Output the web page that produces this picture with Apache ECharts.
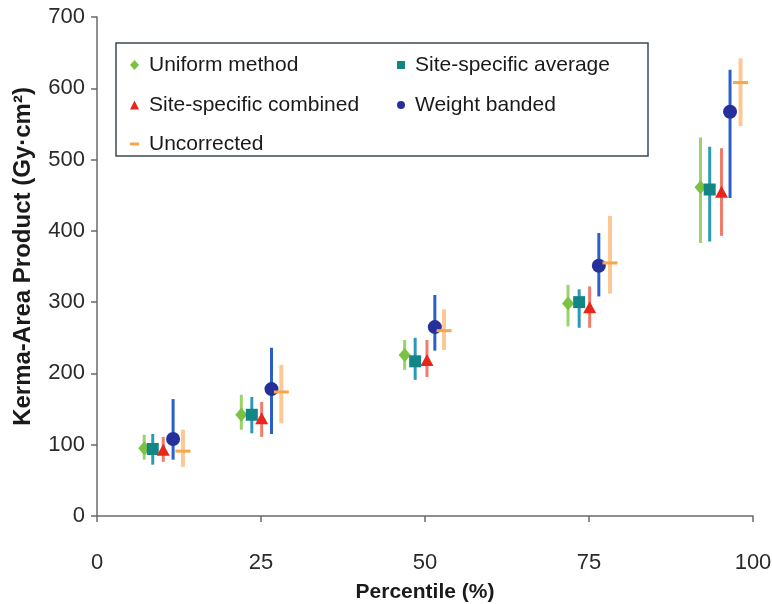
<!DOCTYPE html>
<html>
<head>
<meta charset="utf-8">
<script src="https://cdn.jsdelivr.net/npm/echarts@6/dist/echarts.min.js"></script>
<style>html,body{margin:0;padding:0;background:#fff}#c{width:772px;height:604px}</style>
</head>
<body>
<div id="c"></div>
<script>
var xTicks = [0, 25, 50, 75, 100];
var yTicks = [0, 100, 200, 300, 400, 500, 600, 700];

var seriesNames = ['Uniform method', 'Site-specific average', 'Site-specific combined', 'Weight banded', 'Uncorrected'];

var uniformX  = [7.2, 22.0, 46.9, 71.8, 92.0];
var uniformY  = [95, 142, 226, 298, 461];
var uniformLo = [79, 121, 205, 266, 383];
var uniformHi = [114, 170, 247, 324, 531];

var siteAvgX  = [8.5, 23.6, 48.5, 73.5, 93.4];
var siteAvgY  = [94, 142, 217, 300, 458];
var siteAvgLo = [72, 116, 191, 264, 385];
var siteAvgHi = [115, 167, 250, 318, 518];

var combinedX  = [10.1, 25.1, 50.3, 75.1, 95.2];
var combinedY  = [93, 137, 219, 293, 455];
var combinedLo = [76, 111, 195, 264, 393];
var combinedHi = [111, 160, 247, 322, 516];

var weightX  = [11.6, 26.6, 51.5, 76.5, 96.5];
var weightY  = [108, 178, 265, 351, 567];
var weightLo = [79, 115, 232, 308, 446];
var weightHi = [164, 236, 310, 397, 626];

var uncorrX  = [13.1, 28.1, 52.9, 78.2, 98.1];
var uncorrY  = [91, 174, 260, 355, 608];
var uncorrLo = [69, 130, 233, 312, 547];
var uncorrHi = [121, 212, 290, 421, 642];

var FONT = '"Liberation Sans", Arial, sans-serif';

var defs = [
  {name: seriesNames[0], x: uniformX, y: uniformY, lo: uniformLo, hi: uniformHi, mc: '#7cc242', bc: '#9ad36a', sym: 'diamond', size: [12, 14], bw: 3, li: 'diamond', lw: 9, lh: 10},
  {name: seriesNames[1], x: siteAvgX, y: siteAvgY, lo: siteAvgLo, hi: siteAvgHi, mc: '#148585', bc: '#2a9bb5', sym: 'rect', size: [12, 12], bw: 3, li: 'rect', lw: 8, lh: 8},
  {name: seriesNames[2], x: combinedX, y: combinedY, lo: combinedLo, hi: combinedHi, mc: '#e8261c', bc: '#f27c6b', sym: 'triangle', size: [13, 12], bw: 3, li: 'triangle', lw: 9, lh: 9},
  {name: seriesNames[3], x: weightX, y: weightY, lo: weightLo, hi: weightHi, mc: '#25309a', bc: '#2a5fc9', sym: 'circle', size: [14, 14], bw: 3, li: 'circle', lw: 8, lh: 8},
  {name: seriesNames[4], x: uncorrX, y: uncorrY, lo: uncorrLo, hi: uncorrHi, mc: '#f7a64c', bc: '#fcc995', sym: 'rect', size: [15, 3], bw: 4, li: 'rect', lw: 9, lh: 3}
];

var series = [];
defs.forEach(function (d) {
  var errData = d.x.map(function (xv, i) { return [xv, d.lo[i], d.hi[i]]; });
  series.push({
    type: 'custom',
    name: d.name + ' range',
    data: errData,
    encode: {x: 0, y: [1, 2]},
    z: 1,
    silent: true,
    renderItem: (function (col, w) {
      return function (params, api) {
        var p1 = api.coord([api.value(0), api.value(1)]);
        var p2 = api.coord([api.value(0), api.value(2)]);
        return {type: 'line', shape: {x1: p1[0], y1: p1[1], x2: p2[0], y2: p2[1]}, style: {stroke: col, lineWidth: w}};
      };
    })(d.bc, d.bw)
  });
});
defs.forEach(function (d) {
  series.push({
    type: 'scatter',
    name: d.name,
    data: d.x.map(function (xv, i) { return [xv, d.y[i]]; }),
    symbol: d.sym,
    symbolSize: d.size,
    itemStyle: {color: d.mc, opacity: 1},
    z: 3
  });
});

var legendPos = [
  {left: 130, top: 54},
  {left: 397, top: 54},
  {left: 130, top: 94},
  {left: 397, top: 94},
  {left: 130, top: 133}
];
var legends = defs.map(function (d, i) {
  return {
    data: [{name: d.name, icon: d.li, itemStyle: {color: d.mc}}],
    left: legendPos[i].left,
    top: legendPos[i].top,
    padding: 0,
    itemWidth: d.lw,
    itemHeight: d.lh,
    selectedMode: false,
    textStyle: {fontFamily: FONT, fontSize: 21, color: '#1a1a1a', lineHeight: 22, padding: [0, 0, 0, 5]}
  };
});

var chart = echarts.init(document.getElementById('c'), null, {renderer: 'canvas'});
chart.setOption({
  backgroundColor: '#ffffff',
  animation: false,
  grid: {left: 97, right: 19, top: 17, bottom: 88, containLabel: false, outerBoundsMode: 'none'},
  legend: legends,
  graphic: [{
    type: 'rect',
    shape: {x: 116, y: 43, width: 532, height: 113},
    style: {fill: 'rgba(0,0,0,0)', stroke: '#3d4a52', lineWidth: 1.5},
    z: 10
  }],
  xAxis: {
    type: 'value', min: xTicks[0], max: xTicks[xTicks.length - 1], interval: 25,
    name: 'Percentile (%)', nameLocation: 'middle', nameGap: 66,
    nameTextStyle: {fontFamily: FONT, fontSize: 21, fontWeight: 'bold', color: '#1a1a1a'},
    axisLine: {lineStyle: {color: '#6a6a6a', width: 1.5}},
    axisTick: {length: 6, lineStyle: {color: '#6a6a6a', width: 1.5}},
    axisLabel: {fontFamily: FONT, fontSize: 22, color: '#2a2a2a', margin: 36},
    splitLine: {show: false}
  },
  yAxis: {
    type: 'value', min: yTicks[0], max: yTicks[yTicks.length - 1], interval: 100,
    name: 'Kerma-Area Product (Gy·cm²)', nameLocation: 'middle', nameGap: 62,
    nameTextStyle: {fontFamily: FONT, fontSize: 24, fontWeight: 'bold', color: '#1a1a1a', padding: [0, 0, 0, 20]},
    axisLine: {show: true, lineStyle: {color: '#6a6a6a', width: 1.5}},
    axisTick: {show: true, length: 6, lineStyle: {color: '#6a6a6a', width: 1.5}},
    axisLabel: {fontFamily: FONT, fontSize: 22, color: '#2a2a2a', margin: 12},
    splitLine: {show: false}
  },
  series: series
});
</script>
</body>
</html>
